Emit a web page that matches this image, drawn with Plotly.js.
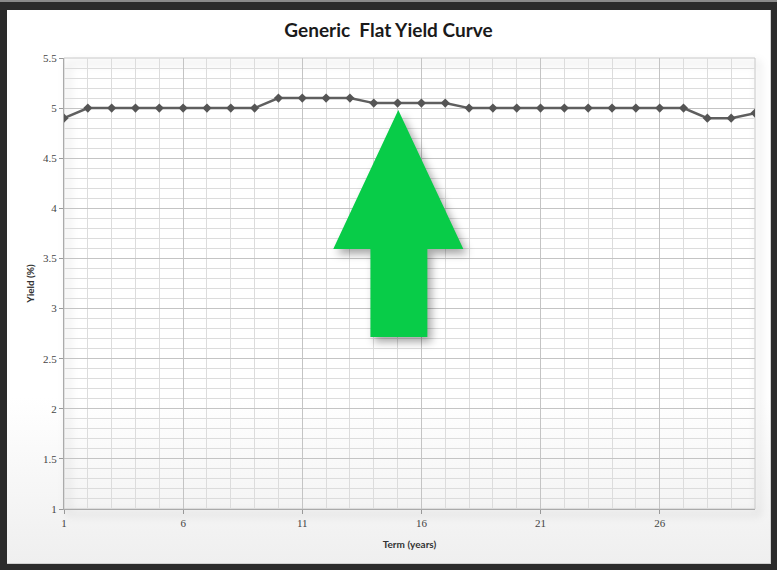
<!DOCTYPE html>
<html>
<head>
<meta charset="utf-8">
<script src="https://cdn.plot.ly/plotly-3.0.1.min.js"></script>
<style>
  html, body { margin: 0; padding: 0; background: #2b2b2b; width: 777px; height: 570px; overflow: hidden; }
  #frame {
    position: absolute; left: 0; top: 0; width: 777px; height: 570px;
    background: #2b2b2b; border-top: 2px solid #8a8a8a; box-sizing: border-box;
  }
  #panel {
    position: absolute; left: 7px; top: 10px; width: 763px; height: 553px;
    background: linear-gradient(to bottom, #ffffff 0%, #ffffff 70%, #efefef 100%);
    border-right: 1px solid #cfcfcf; border-bottom: 1px solid #cfcfcf;
  }
  #chart { position: absolute; left: 0; top: 0; width: 777px; height: 570px; }
  .shapelayer path { filter: drop-shadow(4px 5px 4px rgba(0,0,0,0.35)); }
</style>
</head>
<body>
<div id="frame"></div>
<div id="panel"></div>
<div id="chart"></div>
<script>
// Term in years and the corresponding yield (%)
const termYears = [1, 2, 3, 4, 5, 6, 7, 8, 9, 10, 11, 12, 13, 14, 15,
                   16, 17, 18, 19, 20, 21, 22, 23, 24, 25, 26, 27, 28, 29, 30];
const yieldPct  = [4.9, 5.0, 5.0, 5.0, 5.0, 5.0, 5.0, 5.0, 5.0, 5.1, 5.1, 5.1, 5.1, 5.05, 5.05,
                   5.05, 5.05, 5.0, 5.0, 5.0, 5.0, 5.0, 5.0, 5.0, 5.0, 5.0, 5.0, 4.9, 4.9, 4.95];

const xTickVals = [1, 6, 11, 16, 21, 26];
const yTickVals = [1, 1.5, 2, 2.5, 3, 3.5, 4, 4.5, 5, 5.5];

const chartTitle = 'Generic  Flat Yield Curve';
const xTitle = 'Term (years)';
const yTitle = 'Yield (%)';

// Up arrow overlay, in axis units
const arrowPath = 'M 15.03 4.98 L 17.76 3.594 L 16.25 3.594 L 16.25 2.716 L 13.86 2.716 L 13.86 3.594 L 12.3 3.594 Z';

const tickFont = { family: '"Liberation Serif", "DejaVu Serif", serif', size: 11, color: '#444' };

const trace = {
  x: termYears,
  y: yieldPct,
  type: 'scatter',
  mode: 'lines+markers',
  line: { color: '#5f5f5f', width: 2.5 },
  marker: { symbol: 'diamond', size: 7, color: '#555555' },
  hoverinfo: 'x+y'
};

const layout = {
  width: 777,
  height: 570,
  paper_bgcolor: 'rgba(0,0,0,0)',
  plot_bgcolor: 'rgba(0,0,0,0)',
  margin: { l: 64, r: 22, t: 58, b: 61 },
  showlegend: false,
  font: { family: 'Lato, "Open Sans", sans-serif', color: '#444' },
  title: {
    text: '<b>' + chartTitle + '</b>',
    font: { family: 'Lato, "Open Sans", sans-serif', size: 19, color: '#1a1a1a' },
    x: 0.5, xanchor: 'center', y: 0.947, yanchor: 'middle'
  },
  xaxis: {
    range: [1, 30],
    tickvals: xTickVals,
    ticks: 'outside', ticklen: 4, tickcolor: '#999',
    tickfont: tickFont,
    showgrid: true, gridcolor: '#c4c4c4', gridwidth: 1,
    minor: { dtick: 1, tick0: 1, showgrid: true, gridcolor: '#dcdcdc', gridwidth: 1, ticks: '' },
    showline: true, linecolor: '#aaa', linewidth: 1, mirror: false,
    zeroline: false,
    title: { text: '<b>' + xTitle + '</b>', font: { size: 10, color: '#333' }, standoff: 12 }
  },
  yaxis: {
    range: [1, 5.5],
    tickvals: yTickVals,
    ticks: 'outside', ticklen: 4, tickcolor: '#999',
    tickfont: tickFont,
    showgrid: true, gridcolor: '#c4c4c4', gridwidth: 1,
    minor: { dtick: 0.1, tick0: 1, showgrid: true, gridcolor: '#dcdcdc', gridwidth: 1, ticks: '' },
    showline: true, linecolor: '#aaa', linewidth: 1,
    zeroline: false,
    title: { text: '<b>' + yTitle + '</b>', font: { size: 10, color: '#333' }, standoff: 6 }
  },
  shapes: [
    {
      type: 'rect', xref: 'paper', yref: 'paper', x0: 0, x1: 1, y0: 0, y1: 1,
      line: { color: '#c8c8c8', width: 1 }, fillcolor: 'rgba(0,0,0,0)', layer: 'below'
    },
    {
      type: 'path', xref: 'x', yref: 'y', path: arrowPath,
      fillcolor: '#08cc48', line: { color: '#08cc48', width: 0 }, layer: 'above'
    }
  ]
};

Plotly.newPlot('chart', [trace], layout, { displayModeBar: false, staticPlot: true });
</script>
</body>
</html>
